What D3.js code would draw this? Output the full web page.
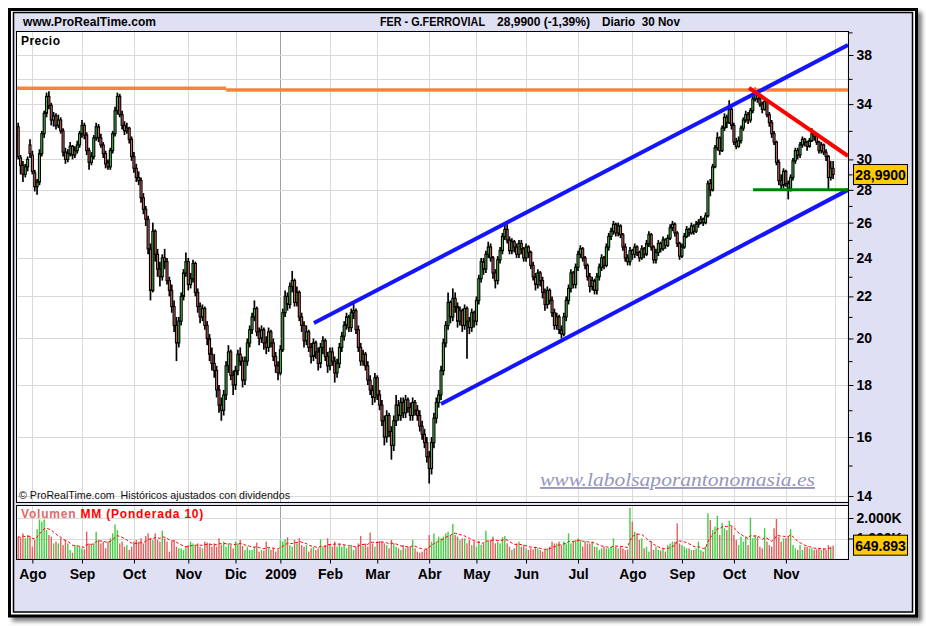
<!DOCTYPE html>
<html><head><meta charset="utf-8">
<script src="https://cdn.jsdelivr.net/npm/d3@7"></script>
<style>
body{margin:0;background:#fff;}
svg{display:block;}
text{font-family:"Liberation Sans",Arial,sans-serif;white-space:pre;}
</style>
</head><body>
<svg id="c" width="926" height="626"></svg>
<script>
// ---- DATA ----
// daily candles [open, high, low, close], 24 Jul 2008 .. 30 Nov 2009 (index = trading day)
const ohlc = [
[32.3,32.6,30.0,30.2],[30.1,30.3,29.0,29.6],[29.6,29.9,28.5,29.0],[29.0,29.7,28.8,29.5],[29.5,30.2,29.2,30.0],
[31.0,31.4,30.1,30.4],[30.3,30.6,29.0,29.2],[29.1,29.3,27.9,28.2],[28.2,28.7,27.7,28.5],[28.5,30.7,28.3,30.4],
[30.4,32.0,30.2,31.8],[31.8,33.5,31.5,33.3],[33.3,34.9,33.0,34.6],[34.6,35.0,33.6,33.9],[33.9,34.1,32.4,32.8],
[32.8,33.4,32.3,33.1],[33.1,33.3,32.1,32.4],[32.4,33.2,32.2,32.8],[32.8,33.0,31.8,32.0],[32.0,32.2,30.2,30.5],
[30.5,30.8,29.7,30.0],[30.0,30.7,29.8,30.4],[30.4,31.2,30.2,30.9],[30.9,31.0,30.0,30.3],[30.3,30.9,30.1,30.6],
[30.6,31.3,30.4,31.0],[31.0,32.0,30.8,31.8],[31.8,32.8,31.5,32.4],[32.4,32.6,31.4,31.7],[31.7,31.9,30.3,30.6],
[30.6,30.8,29.3,29.8],[29.8,30.5,29.6,30.2],[30.2,31.7,30.0,31.5],[31.5,32.6,31.3,32.3],[32.3,32.5,31.2,31.5],
[31.5,31.8,30.8,31.0],[31.0,31.2,30.1,30.4],[30.4,30.6,29.4,29.7],[29.8,30.0,29.3,29.5],[29.5,30.8,29.3,30.6],
[30.6,32.0,30.4,31.8],[31.8,33.8,31.6,33.5],[33.5,34.9,33.2,34.6],[34.6,34.8,33.0,33.2],[33.2,33.5,32.1,32.4],
[32.4,32.7,31.7,32.0],[32.0,32.6,31.8,32.2],[32.2,32.3,31.1,31.4],[31.4,31.6,29.9,30.2],[30.2,30.5,29.1,29.4],
[29.4,29.7,28.5,28.8],[28.8,29.2,28.3,28.6],[28.6,28.8,27.2,27.5],[27.5,27.8,26.5,26.8],[26.8,27.0,25.8,26.2],
[26.2,26.4,24.2,24.5],[24.5,24.8,21.8,22.3],[22.3,26.0,22.2,25.5],[25.5,25.6,23.8,24.2],[24.2,24.5,23.0,23.4],
[23.4,23.8,22.5,23.0],[23.0,24.2,22.8,24.0],[24.0,24.5,23.4,23.8],[23.8,24.0,22.6,22.8],[22.8,23.0,22.0,22.3],
[22.3,22.6,21.2,21.5],[21.5,21.8,20.3,20.6],[20.6,21.0,19.0,19.8],[19.8,21.0,19.6,20.8],[20.8,22.2,20.6,22.0],
[22.0,23.4,21.8,23.2],[23.2,24.3,23.0,23.8],[23.8,24.0,22.3,22.6],[22.6,23.2,22.4,22.9],[22.9,23.9,22.7,23.7],
[23.7,23.8,22.0,22.2],[22.2,22.4,21.2,21.5],[21.5,21.7,20.7,21.0],[21.0,21.6,20.8,21.4],[21.4,21.5,20.4,20.6],
[20.6,20.8,19.7,20.0],[20.0,20.2,19.0,19.3],[19.3,19.6,18.6,18.9],[18.9,19.3,18.3,18.6],[18.6,18.8,17.5,17.8],
[17.8,18.0,16.9,17.2],[17.2,17.5,16.6,17.0],[17.0,17.8,16.8,17.6],[17.6,19.0,17.4,18.8],[18.8,19.7,18.5,19.4],
[19.4,19.5,18.2,18.4],[18.4,18.6,17.6,18.0],[18.0,18.8,17.8,18.6],[18.6,19.5,18.4,19.3],[19.3,19.6,18.8,19.0],
[19.0,19.2,17.9,18.2],[18.2,19.2,18.0,19.0],[19.0,20.0,18.8,19.8],[19.8,20.6,19.6,20.4],[20.4,21.2,20.2,21.0],
[21.0,21.8,20.8,21.4],[21.4,21.5,20.1,20.3],[20.3,20.5,19.7,20.0],[20.0,20.6,19.8,20.4],[20.4,20.5,19.5,19.8],
[19.8,20.1,19.3,19.6],[19.6,20.5,19.4,20.3],[20.3,20.4,19.6,19.8],[19.8,20.0,19.0,19.2],[19.2,19.4,18.5,18.8],
[18.8,19.0,18.2,18.5],[18.5,19.7,18.4,19.5],[19.5,21.4,19.4,21.2],[21.2,22.3,21.0,22.0],[22.0,22.2,21.3,21.6],
[21.6,22.7,21.4,22.5],[22.5,23.3,22.2,22.8],[22.8,22.9,21.5,21.7],[21.7,22.5,21.5,22.2],[22.2,22.3,20.8,21.0],
[21.0,21.2,20.3,20.6],[20.6,20.8,19.6,19.9],[19.9,20.6,19.7,20.3],[20.3,20.4,19.4,19.6],[19.6,19.8,18.9,19.2],
[19.2,20.0,19.0,19.8],[19.8,19.9,19.1,19.4],[19.4,19.6,18.6,18.9],[18.9,19.8,18.7,19.6],[19.6,20.1,19.3,19.9],
[19.9,20.0,19.0,19.2],[19.2,19.4,18.5,18.8],[18.8,19.6,18.6,19.4],[19.4,19.6,18.8,19.0],[19.0,19.2,18.1,18.5],
[18.5,19.1,18.3,18.9],[18.9,19.8,18.7,19.6],[19.6,20.3,19.4,20.1],[20.1,20.8,19.9,20.6],[20.6,21.2,20.4,21.0],
[21.0,21.1,20.3,20.5],[20.5,21.4,20.3,21.2],[21.2,21.7,20.9,21.3],[21.3,21.4,20.2,20.4],[20.4,20.6,19.4,19.6],
[19.6,19.8,18.8,19.0],[19.0,19.5,18.8,19.3],[19.3,19.4,18.6,18.8],[18.8,19.0,18.0,18.2],[18.2,18.4,17.6,17.8],
[17.8,18.0,17.2,17.5],[17.5,18.5,17.3,18.3],[18.3,18.4,17.4,17.6],[17.6,17.8,17.0,17.2],[17.2,17.4,16.4,16.6],
[16.6,16.8,15.7,16.0],[16.0,17.0,15.8,16.8],[16.8,16.9,16.0,16.2],[16.2,16.4,15.2,15.7],[15.7,16.8,15.5,16.6],
[16.6,17.6,16.4,17.2],[17.2,17.4,16.6,16.8],[16.8,17.5,16.6,17.3],[17.3,17.5,16.7,16.9],[16.9,17.6,16.7,17.4],
[17.4,17.5,16.9,17.1],[17.1,17.3,16.6,16.8],[16.8,17.5,16.6,17.3],[17.3,17.4,16.8,17.0],[17.0,17.2,16.6,16.8],
[16.8,17.0,16.2,16.4],[16.4,16.6,15.9,16.1],[16.1,16.3,15.6,15.8],[15.8,16.0,15.1,15.3],[15.3,15.5,14.4,14.9],
[14.9,16.0,14.7,15.8],[15.8,16.9,15.6,16.7],[16.7,17.5,16.5,17.3],[17.3,17.8,17.1,17.6],[17.6,18.8,17.4,18.6],
[18.6,20.0,18.4,19.8],[19.8,20.8,19.6,20.6],[20.6,22.2,20.4,21.7],[21.7,21.8,20.7,21.0],[21.0,22.4,20.8,21.9],
[21.9,22.2,21.2,21.5],[21.5,21.7,20.5,20.8],[20.8,21.5,20.6,21.3],[21.3,21.4,20.3,20.6],[20.6,21.6,20.4,21.4],
[21.4,21.5,19.1,20.8],[20.8,21.0,20.2,20.5],[20.5,21.4,20.3,21.2],[21.2,21.3,20.5,20.8],[20.8,22.0,20.6,21.8],
[21.8,23.1,21.6,22.9],[22.9,24.0,22.7,23.8],[23.8,24.0,23.1,23.4],[23.4,24.4,23.2,24.2],[24.2,24.9,24.0,24.6],
[24.6,24.8,23.8,24.0],[24.0,24.1,22.9,23.2],[23.2,23.4,22.4,22.8],[22.8,24.1,22.6,23.9],[23.9,24.6,23.7,24.4],
[24.4,25.4,24.2,25.2],[25.2,25.9,25.0,25.6],[25.6,25.9,24.8,25.0],[25.0,25.2,24.2,24.4],[24.4,25.1,24.2,24.9],
[24.9,25.0,24.3,24.6],[24.6,24.8,24.0,24.2],[24.2,25.0,24.0,24.8],[24.8,25.0,24.2,24.5],[24.5,24.6,23.8,24.0],
[24.0,24.8,23.8,24.6],[24.6,24.7,24.0,24.3],[24.3,24.4,23.4,23.6],[23.6,23.8,22.8,23.0],[23.0,23.2,22.3,22.6],
[22.6,23.4,22.4,23.2],[23.2,23.3,22.5,22.8],[22.8,23.0,21.9,22.2],[22.2,22.4,21.3,21.6],[21.6,22.5,21.4,22.3],
[22.3,22.4,21.6,21.8],[21.8,22.0,21.0,21.2],[21.2,21.4,20.4,20.6],[20.6,21.2,20.4,21.0],[21.0,21.1,20.2,20.4],
[20.4,20.6,20.0,20.2],[20.2,21.2,20.1,21.0],[21.0,22.0,20.8,21.8],[21.8,22.6,21.6,22.4],[22.4,23.4,22.2,23.2],
[23.2,23.3,22.4,22.6],[22.6,23.7,22.4,23.5],[23.5,24.4,23.3,24.2],[24.2,24.7,24.0,24.5],[24.5,24.6,23.8,24.0],
[24.0,24.1,23.4,23.6],[23.6,23.7,22.8,23.0],[23.0,23.2,22.2,22.5],[22.5,23.0,22.3,22.8],[22.8,22.9,22.1,22.3],
[22.3,23.2,22.1,23.0],[23.0,23.7,22.8,23.5],[23.5,24.2,23.3,24.0],[24.0,24.1,23.4,23.6],[23.6,24.8,23.5,24.6],
[24.6,25.4,24.4,25.2],[25.2,25.7,25.0,25.5],[25.5,26.1,25.3,25.9],[25.9,26.0,25.2,25.4],[25.4,26.0,25.2,25.8],
[25.8,25.9,25.1,25.3],[25.3,25.4,24.4,24.6],[24.6,24.8,23.8,24.0],[24.0,24.2,23.6,23.8],[23.8,24.6,23.6,24.4],
[24.4,24.5,23.9,24.2],[24.2,24.8,24.0,24.6],[24.6,24.7,24.1,24.3],[24.3,24.4,23.8,24.0],[24.0,24.7,23.9,24.5],
[24.5,24.6,24.0,24.2],[24.2,25.0,24.1,24.8],[24.8,25.5,24.6,25.3],[25.3,25.4,24.4,24.6],[24.6,24.7,23.7,23.9],
[23.9,24.5,23.7,24.3],[24.3,25.0,24.1,24.8],[24.8,24.9,24.3,24.5],[24.5,25.2,24.4,25.0],[25.0,25.1,24.5,24.7],
[24.7,25.3,24.6,25.1],[25.1,25.9,25.0,25.7],[25.7,26.1,25.5,25.9],[25.9,26.0,25.2,25.4],[25.4,25.5,24.6,24.8],
[24.8,24.9,23.9,24.1],[24.1,24.8,24.0,24.6],[24.6,25.4,24.5,25.2],[25.2,25.8,25.1,25.6],[25.6,25.7,25.2,25.4],
[25.4,26.0,25.3,25.8],[25.8,25.9,25.3,25.5],[25.5,26.1,25.4,25.9],[25.9,26.2,25.7,26.0],[26.0,26.4,25.9,26.2],
[26.2,26.3,25.8,26.0],[26.0,26.6,25.9,26.4],[26.4,28.6,26.3,28.4],[28.4,28.7,27.6,28.0],[28.0,29.7,27.9,29.5],
[29.5,31.0,29.4,30.8],[30.8,31.9,30.6,31.5],[31.5,31.6,30.3,30.6],[30.6,32.4,30.5,32.2],[32.2,33.3,32.0,33.0],
[33.0,33.2,32.2,32.6],[32.6,34.3,32.5,33.6],[33.6,33.8,32.1,32.4],[32.4,32.6,31.0,31.2],[31.2,31.5,30.7,30.9],
[30.9,31.6,30.8,31.3],[31.3,32.4,31.1,32.2],[32.2,33.0,32.0,32.8],[32.8,33.5,32.6,33.2],[33.2,33.4,32.5,32.8],
[32.8,33.7,32.6,33.5],[33.5,34.6,33.3,34.4],[34.4,35.3,34.2,35.0],[35.0,35.1,34.1,34.4],[34.4,34.6,33.8,34.0],
[34.0,34.2,33.3,33.6],[33.6,34.4,33.5,34.2],[34.2,34.3,33.0,33.2],[33.2,33.4,32.3,32.6],[32.6,32.8,31.5,31.8],
[31.8,32.0,31.0,31.2],[31.2,31.3,29.6,29.8],[29.8,30.0,28.3,28.6],[28.6,29.0,28.0,28.3],[28.3,29.4,28.1,29.2],
[29.2,29.3,28.2,28.4],[28.4,28.6,27.4,28.1],[28.1,29.0,27.9,28.8],[28.8,30.1,28.6,29.9],[29.9,30.8,29.7,30.6],
[30.6,30.8,30.0,30.3],[30.3,31.2,30.1,31.0],[31.0,31.6,30.8,31.4],[31.4,31.5,30.9,31.2],[31.2,31.3,30.6,30.9],
[30.9,31.5,30.8,31.3],[31.3,32.2,31.2,31.8],[31.8,32.0,31.3,31.6],[31.6,31.7,31.0,31.2],[31.2,31.3,30.4,30.6],
[30.6,31.2,30.4,31.0],[31.0,31.1,30.3,30.5],[30.5,30.7,29.9,30.2],[30.2,30.3,28.0,28.8],[28.8,29.9,28.6,29.4],
[29.4,29.9,28.7,28.99]
];
// daily volume, thousands of shares
const volume = [
1090,1010,1250,1010,1170,1090,600,
930,1460,1930,1820,1930,1410,1170,1090,
760,850,760,1010,680,930,760,440,
310,680,630,600,520,470,
1330,760,680,760,1330,930,760,
850,520,850,1010,1250,1690,1410,760,
850,600,680,440,600,850,930,
850,1010,760,1120,1250,1010,930,1250,930,850,1380,1010,850,
360,850,930,600,520,520,440,600,
680,850,760,680,760,600,520,850,800,760,600,
760,600,1010,680,850,600,760,680,520,850,
760,930,630,440,600,440,440,600,800,360,440,410,850,
520,440,520,360,440,930,850,
960,1060,680,600,930,760,1010,
680,600,680,360,520,600,440,520,960,600,680,1010,680,600,
850,600,760,600,680,520,600,680,440,600,760,1120,630,760,
600,1290,
760,600,850,880,850,760,680,520,930,760,600,520,440,
680,520,600,600,930,520,360,310,360,440,520,
1170,
850,1250,850,1090,1010,1090,1250,1330,1170,1710,1170,1090,930,1010,1010,
760,930,680,850,600,880,680,760,
1380,850,930,1090,760,850,760,1060,1120,
760,600,440,520,760,850,600,680,520,440,520,470,600,520,440,360,440,520,
600,850,760,760,850,680,850,760,1250,760,850,930,1010,
930,600,850,760,760,850,600,600,440,520,600,520,520,600,1010,600,520,600,520,440,
470,2500,1820,1330,1250,930,
1010,520,600,360,850,440,600,440,410,520,360,680,760,850,
850,1740,
760,680,600,520,520,440,440,520,850,440,360,600,
2230,1900,1410,1580,2110,1170,1770,1500,1410,1870,1580,
1170,930,680,1090,850,1090,680,2020,1010,
1170,1090,600,520,1500,850,680,600,
1500,1950,1090,850,1010,1010,1100,1460,680,
520,440,680,440,600,600,520,520,440,470,520,440,520,440,680,600,649.893
];
// month starts (trading-day index) and labels
const monthIdx    = [6,27,49,72,92,111,132,152,174,194,215,237,260,281,303,325];
const monthLabels = ['Ago','Sep','Oct','Nov','Dic','2009','Feb','Mar','Abr','May','Jun','Jul','Ago','Sep','Oct','Nov'];
const extraGridIdx = [346];           // Dic 2009 (no label)
const yearIdx = 111;
const priceTicks = [14,16,18,20,22,24,26,28,30,34,38];
const priceMinorTicks = [15,17,19,21,23,25,27,29,32,36,40];
const priceGrid = [14,16,18,20,22,24,26,28,30,32,34,36,38];
const volTicks = [1000,2000];
// drawn lines: [index, price]
const resistanceA = [[-0.93,35.25],[88.0,35.25]];
const resistanceB = [[88.0,35.1],[351.3,35.1]];
const channelTop = [[125.2,20.71],[351.3,38.86]];
const channelBottom = [[179.0,17.24],[351.3,28.0]];
const downTrend = [[309.4,35.27],[351.3,30.23]];
const support = [[311.1,28.0],[351.3,28.0]];
const lastPriceLabel = '28,9900';
const lastPrice = 28.99;
const lastVolLabel = '649.893';

// ---- LAYOUT ----
const L=16, R=848, PT=31, PB=502, VT=505, VB=559;
const svg = d3.select('#c');
const x = d3.scaleLinear().domain([-0.93,351.3]).range([L,R]);
const y = d3.scaleLog().domain([14,38]).range([496,55]);
const yv = d3.scaleLinear().domain([0,2000]).range([VB,518]);

const defs = svg.append('defs');
const f = defs.append('filter').attr('id','sh').attr('x','-2%').attr('y','-2%').attr('width','106%').attr('height','106%');
f.append('feDropShadow').attr('dx',4).attr('dy',4).attr('stdDeviation',2).attr('flood-color','#000').attr('flood-opacity',0.5);
defs.append('clipPath').attr('id','cp').append('rect').attr('x',L).attr('y',PT).attr('width',R-L).attr('height',PB-PT);
defs.append('clipPath').attr('id','cv').append('rect').attr('x',L).attr('y',VT).attr('width',R-L).attr('height',VB-VT);

// frame
svg.append('rect').attr('x',9.5).attr('y',9.5).attr('width',907).attr('height',606.5)
  .attr('fill','#fff').attr('stroke','#000').attr('stroke-width',3).attr('filter','url(#sh)');
svg.append('rect').attr('x',13.5).attr('y',12.5).attr('width',899).attr('height',599.5)
  .attr('fill','#e0e0f5').attr('stroke','#000').attr('stroke-width',1.5);

// panels
svg.append('rect').attr('x',L+0.5).attr('y',PT+0.5).attr('width',R-L-1).attr('height',PB-PT-1).attr('fill','#fff');
svg.append('rect').attr('x',L+0.5).attr('y',VT+0.5).attr('width',R-L-1).attr('height',VB-VT-1).attr('fill','#fff');

// grids
const gridCol='#d9d9d9';
const vIdx = monthIdx.concat(extraGridIdx);
[[PT,PB],[VT,VB]].forEach(([t,b])=>{
  svg.append('g').selectAll('line').data(vIdx).join('line')
    .attr('x1',d=>Math.round(x(d))+0.5).attr('x2',d=>Math.round(x(d))+0.5)
    .attr('y1',t).attr('y2',b)
    .attr('stroke',d=>d===yearIdx?'#a0a0a0':gridCol).attr('stroke-width',1);
});
svg.append('g').selectAll('line').data(priceGrid).join('line')
  .attr('x1',L).attr('x2',R).attr('y1',d=>Math.round(y(d))+0.5).attr('y2',d=>Math.round(y(d))+0.5)
  .attr('stroke',gridCol);
svg.append('g').selectAll('line').data(volTicks).join('line')
  .attr('x1',L).attr('x2',R).attr('y1',d=>Math.round(yv(d))+0.5).attr('y2',d=>Math.round(yv(d))+0.5)
  .attr('stroke',gridCol);

// candles
const UP='#4fcf4f', DN='#e06a6a';
const cg = svg.append('g').attr('clip-path','url(#cp)');
const idx = d3.range(ohlc.length);
cg.selectAll('line.w').data(idx).join('line').attr('class','w')
  .attr('x1',i=>x(i)).attr('x2',i=>x(i))
  .attr('y1',i=>y(ohlc[i][1])).attr('y2',i=>y(ohlc[i][2]))
  .attr('stroke','#000').attr('stroke-width',1.7);
cg.selectAll('rect.b').data(idx).join('rect').attr('class','b')
  .attr('x',i=>x(i)-1).attr('width',2)
  .attr('y',i=>y(Math.max(ohlc[i][0],ohlc[i][3])))
  .attr('height',i=>Math.max(1,Math.abs(y(ohlc[i][0])-y(ohlc[i][3]))))
  .attr('fill',i=>ohlc[i][3]>=ohlc[i][0]?UP:DN)
  .attr('stroke','#000').attr('stroke-width',1.1);

// trend lines
const ln = d3.line().x(d=>x(d[0])).y(d=>y(d[1]));
const lg = svg.append('g').attr('clip-path','url(#cp)');
[[resistanceA,'#ff8040',3.5],[resistanceB,'#ff8040',3.5],[channelTop,'#1414ff',4],
 [channelBottom,'#1414ff',4],[downTrend,'#ff0000',4],[support,'#008000',3]].forEach(([d,c,w])=>{
  lg.append('path').attr('d',ln(d)).attr('stroke',c).attr('stroke-width',w).attr('fill','none');
});

// volume
const vg = svg.append('g').attr('clip-path','url(#cv)');
vg.selectAll('rect').data(idx).join('rect')
  .attr('x',i=>x(i)-0.7).attr('width',1.4)
  .attr('y',i=>yv(volume[i])).attr('height',i=>VB-yv(volume[i]))
  .attr('fill',i=>ohlc[i][3]>=ohlc[i][0]?'#44cc44':'#e06060');
// weighted moving average 10
const wma = idx.map(i=>{
  let s=0,w=0;
  for(let k=0;k<10 && i-k>=0;k++){const wt=10-k; s+=wt*volume[i-k]; w+=wt;}
  return s/w;
});
vg.append('path').attr('d',d3.line().x((d,i)=>x(i)).y(d=>yv(d))(wma))
  .attr('fill','none').attr('stroke','#ff0000').attr('stroke-width',1).attr('stroke-dasharray','3,2');

// panel borders
svg.append('rect').attr('x',L+0.5).attr('y',PT+0.5).attr('width',R-L).attr('height',PB-PT).attr('fill','none').attr('stroke','#000');
svg.append('rect').attr('x',L+0.5).attr('y',VT+0.5).attr('width',R-L).attr('height',VB-VT).attr('fill','none').attr('stroke','#000');

// axes
function styleAxis(g,size){
  g.select('.domain').remove();
  g.selectAll('line').attr('stroke','#000');
  g.selectAll('text').attr('fill','#000').style('font-size',size+'px').style('font-weight','bold')
   .style('font-family','"Liberation Sans",Arial,sans-serif');
}
svg.append('g').attr('transform',`translate(${R+0.5},0)`)
  .call(d3.axisRight(y).tickValues(priceTicks).tickFormat(d3.format('d')).tickSize(5).tickPadding(3))
  .call(g=>styleAxis(g,14));
svg.append('g').attr('transform',`translate(${R+0.5},0)`)
  .call(d3.axisRight(y).tickValues(priceMinorTicks).tickFormat('').tickSize(4))
  .call(g=>styleAxis(g,14));
svg.append('g').attr('transform',`translate(${R+0.5},0)`)
  .call(d3.axisRight(yv).tickValues(volTicks).tickFormat(d=>(d/1000)+'.000K').tickSize(5).tickPadding(3))
  .call(g=>styleAxis(g,14));
svg.append('g').attr('transform',`translate(0,${VB+0.5})`)
  .call(d3.axisBottom(x).tickValues(monthIdx).tickFormat((d,i)=>monthLabels[i]).tickSize(4).tickPadding(6))
  .call(g=>styleAxis(g,14));
svg.append('line').attr('x1',R+0.5).attr('x2',R+0.5).attr('y1',PT).attr('y2',VB).attr('stroke','#000');

// value boxes (drawn over the axis labels, as in the original)
function valBox(cy,label){
  const g=svg.append('g');
  g.append('rect').attr('x',853.5).attr('y',cy-10).attr('width',54).attr('height',20)
   .attr('fill','#ffcc00').attr('stroke','#000');
  g.append('text').attr('x',880.5).attr('y',cy+5.5).attr('text-anchor','middle')
   .style('font-size','14px').style('font-weight','bold').text(label);
}
valBox(y(lastPrice),lastPriceLabel);
valBox(yv(volume[volume.length-1])-0.5,lastVolLabel);

// texts
svg.append('text').attr('x',23).attr('y',26).style('font-size','12px').style('font-weight','bold')
  .attr('textLength',133).text('www.ProRealTime.com');
svg.append('text').attr('x',380).attr('y',26).style('font-size','12px').style('font-weight','bold')
  .attr('textLength',105).attr('lengthAdjust','spacingAndGlyphs').text('FER - G.FERROVIAL');
svg.append('text').attr('x',497).attr('y',26).style('font-size','12px').style('font-weight','bold')
  .attr('textLength',93).attr('lengthAdjust','spacingAndGlyphs').text('28,9900 (-1,39%)');
svg.append('text').attr('x',602).attr('y',26).style('font-size','12px').style('font-weight','bold')
  .attr('textLength',78).attr('lengthAdjust','spacingAndGlyphs').text('Diario  30 Nov');
svg.append('text').attr('x',21).attr('y',45).style('font-size','12px').style('font-weight','bold')
  .attr('textLength',39).text('Precio');
svg.append('text').attr('x',19).attr('y',499).style('font-size','11px').attr('fill','#111')
  .attr('textLength',271).attr('lengthAdjust','spacingAndGlyphs')
  .text('© ProRealTime.com  Históricos ajustados con dividendos');
svg.append('text').attr('x',540).attr('y',486)
  .style('font-family','"Liberation Serif","DejaVu Serif",serif').style('font-style','italic')
  .style('font-size','19px').style('text-decoration','underline').attr('fill','#9696bc')
  .attr('textLength',275).attr('lengthAdjust','spacingAndGlyphs')
  .text('www.labolsaporantonomasia.es');
const vt = svg.append('text').attr('x',21).attr('y',518).style('font-size','12px').style('font-weight','bold')
  .style('letter-spacing','0.8px');
vt.append('tspan').attr('fill','#e06a6a').text('Volumen ');
vt.append('tspan').attr('fill','#ff0000').text('MM (Ponderada 10)');
</script>
</body></html>
